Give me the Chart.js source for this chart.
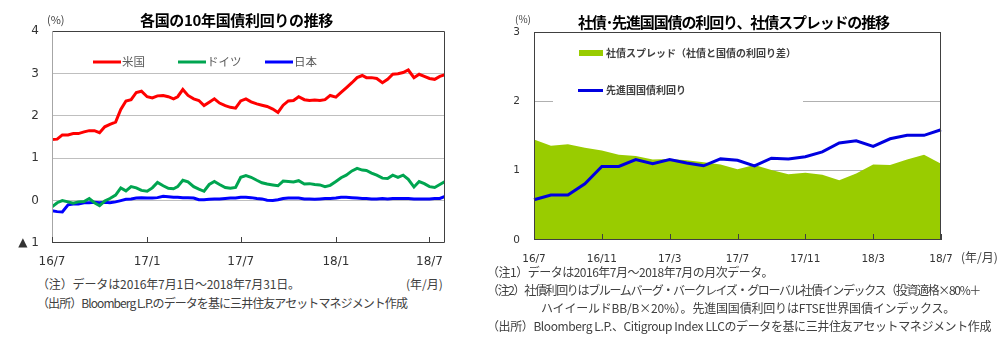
<!DOCTYPE html>
<html>
<head>
<meta charset="utf-8">
<script src="https://cdn.jsdelivr.net/npm/chart.js@4.4.0/dist/chart.umd.min.js"></script>
<style>
  body { margin: 0; width: 1006px; height: 337px; background: #fff; position: relative; overflow: hidden;
         font-family: "Noto Sans CJK JP", sans-serif; color: #404040; }
  canvas { position: absolute; top: 0; }
  .t { position: absolute; white-space: nowrap; line-height: 1; }
  .title { font-weight: bold; font-size: 15px; color: #000; }
  .note { font-size: 12px; }
  .unit { font-size: 11px; }
</style>
</head>
<body>
<canvas id="yieldChart" width="460" height="270" style="left:0"></canvas>
<canvas id="spreadChart" width="526" height="270" style="left:480px"></canvas>

<div class="t title" style="left:140px;top:12px" data-w="193">各国の10年国債利回りの推移</div>
<div class="t unit" style="left:47px;top:14px">(%)</div>
<div class="t note" style="left:37px;top:278px" data-w="263">（注）データは2016年7月1日～2018年7月31日。</div>
<div class="t note" style="left:406px;top:278px">(年/月)</div>
<div class="t note" style="left:37px;top:297px" data-w="370">（出所）Bloomberg L.P.のデータを基に三井住友アセットマネジメント作成</div>

<div class="t title" style="left:578px;top:14px" data-w="311">社債･先進国国債の利回り、社債スプレッドの推移</div>
<div class="t unit" style="left:515px;top:14px;font-size:10px">(%)</div>
<div class="t note" style="left:961px;top:251px">(年/月)</div>
<div class="t note" style="left:487px;top:266px" data-w="286">（注1）データは2016年7月～2018年7月の月次データ。</div>
<div class="t note" style="left:487px;top:284px" data-w="493">（注2）社債利回りはブルームバーグ・バークレイズ・グローバル社債インデックス（投資適格×80%＋</div>
<div class="t note" style="left:541px;top:302px" data-w="414">ハイイールドBB/B×20%）。先進国国債利回りはFTSE世界国債インデックス。</div>
<div class="t note" style="left:487px;top:320px" data-w="504">（出所）Bloomberg L.P.、Citigroup Index LLCのデータを基に三井住友アセットマネジメント作成</div>

<script>
// ---- left chart: 10y government bond yields (read roughly every 10 days) ----
const dates = [
  "16/7/1","16/7/11","16/7/21","16/8/1","16/8/11","16/8/21","16/9/1","16/9/11","16/9/21",
  "16/10/1","16/10/11","16/10/21","16/11/1","16/11/11","16/11/21","16/12/1","16/12/11","16/12/21",
  "17/1/1","17/1/11","17/1/21","17/2/1","17/2/11","17/2/21","17/3/1","17/3/11","17/3/21",
  "17/4/1","17/4/11","17/4/21","17/5/1","17/5/11","17/5/21","17/6/1","17/6/11","17/6/21",
  "17/7/1","17/7/11","17/7/21","17/8/1","17/8/11","17/8/21","17/9/1","17/9/11","17/9/21",
  "17/10/1","17/10/11","17/10/21","17/11/1","17/11/11","17/11/21","17/12/1","17/12/11","17/12/21",
  "18/1/1","18/1/11","18/1/21","18/2/1","18/2/11","18/2/21","18/3/1","18/3/11","18/3/21",
  "18/4/1","18/4/11","18/4/21","18/5/1","18/5/11","18/5/21","18/6/1","18/6/11","18/6/21",
  "18/7/1","18/7/11","18/7/21","18/7/31"
];
const usYield = [
  1.44, 1.45, 1.55, 1.55, 1.58, 1.58, 1.62, 1.65, 1.65,
  1.60, 1.74, 1.80, 1.85, 2.15, 2.35, 2.38, 2.55, 2.58,
  2.45, 2.42, 2.47, 2.48, 2.45, 2.40, 2.45, 2.62, 2.48,
  2.40, 2.36, 2.24, 2.32, 2.40, 2.30, 2.24, 2.20, 2.18,
  2.35, 2.40, 2.33, 2.28, 2.25, 2.22, 2.16, 2.08, 2.25,
  2.35, 2.36, 2.45, 2.38, 2.36, 2.37, 2.36, 2.38, 2.48,
  2.44, 2.55, 2.66, 2.78, 2.90, 2.95, 2.90, 2.90, 2.88,
  2.78, 2.86, 2.98, 2.99, 3.02, 3.08, 2.90, 2.98, 2.93,
  2.88, 2.86, 2.93, 2.97
];
const deYield = [
  -0.15, -0.05, 0.00, -0.03, -0.06, -0.03, -0.02, 0.05, -0.05,
  -0.12, -0.01, 0.05, 0.13, 0.30, 0.23, 0.33, 0.30, 0.24,
  0.22, 0.30, 0.43, 0.35, 0.29, 0.28, 0.33, 0.48, 0.44,
  0.33, 0.27, 0.22, 0.38, 0.45, 0.38, 0.31, 0.29, 0.31,
  0.55, 0.59, 0.55, 0.48, 0.42, 0.39, 0.37, 0.35, 0.46,
  0.45, 0.44, 0.47, 0.39, 0.40, 0.38, 0.37, 0.33, 0.36,
  0.45, 0.54, 0.60, 0.70, 0.76, 0.72, 0.71, 0.65, 0.60,
  0.53, 0.52, 0.60, 0.55, 0.60, 0.50, 0.32, 0.45, 0.40,
  0.33, 0.31, 0.38, 0.45
];
const jpYield = [
  -0.24, -0.26, -0.27, -0.10, -0.08, -0.08, -0.05, -0.05, -0.04,
  -0.05, -0.04, -0.05, -0.03, 0.00, 0.03, 0.04, 0.06, 0.07,
  0.06, 0.06, 0.07, 0.10, 0.09, 0.08, 0.08, 0.07, 0.07,
  0.06, 0.02, 0.02, 0.03, 0.04, 0.04, 0.05, 0.06, 0.06,
  0.08, 0.08, 0.07, 0.05, 0.04, 0.01, 0.00, 0.02, 0.05,
  0.06, 0.06, 0.06, 0.04, 0.04, 0.03, 0.04, 0.05, 0.05,
  0.06, 0.08, 0.08, 0.07, 0.06, 0.05, 0.05, 0.04, 0.04,
  0.05, 0.04, 0.05, 0.05, 0.05, 0.05, 0.04, 0.04, 0.04,
  0.04, 0.05, 0.05, 0.10
];
const yieldTickDates = ["16/7/1", "17/1/1", "17/7/1", "18/1/1", "18/7/1"];
const yieldTickLabels = ["16/7", "17/1", "17/7", "18/1", "18/7"];

// ---- right chart: monthly corporate spread and developed gov yield ----
const months = [
  "16/7","16/8","16/9","16/10","16/11","16/12","17/1","17/2","17/3","17/4","17/5","17/6",
  "17/7","17/8","17/9","17/10","17/11","17/12","18/1","18/2","18/3","18/4","18/5","18/6","18/7"
];
const corpSpread = [
  1.45, 1.36, 1.38, 1.33, 1.29, 1.23, 1.21, 1.16, 1.17, 1.15, 1.12, 1.09,
  1.02, 1.08, 1.01, 0.95, 0.97, 0.94, 0.86, 0.96, 1.09, 1.08, 1.16, 1.23, 1.10
];
const govYield = [
  0.58, 0.65, 0.65, 0.81, 1.06, 1.06, 1.16, 1.10, 1.16, 1.11, 1.07, 1.17,
  1.15, 1.07, 1.18, 1.17, 1.20, 1.27, 1.40, 1.43, 1.35, 1.46, 1.51, 1.51, 1.59
];

// squeeze or stretch text lines to the widths seen in the reference
document.querySelectorAll("[data-w]").forEach(el => {
  const n = [...el.textContent].length;
  const diff = +el.dataset.w - el.getBoundingClientRect().width;
  el.style.letterSpacing = (diff / n) + "px";
});

const dayOf = s => {
  const [y, m, d] = s.split("/").map(Number);
  return (Date.UTC(2000 + y, m - 1, d) - Date.UTC(2016, 6, 1)) / 864e5;
};
const xDays = dates.map(dayOf);
const toPoints = vals => vals.map((v, i) => ({ x: xDays[i], y: v }));
const tickDays = yieldTickDates.map(dayOf);

const tickFont = { family: "DejaVu Sans", size: 12 };

const yieldDecor = {
  id: "yieldDecor",
  afterDatasetsDraw(chart) {
    const { ctx, chartArea: a, scales } = chart;
    ctx.save();
    // frame
    ctx.lineWidth = 1;
    ctx.strokeStyle = "#404040";
    ctx.beginPath();
    ctx.moveTo(a.left, a.top + 0.5); ctx.lineTo(a.right - 0.5, a.top + 0.5);
    ctx.lineTo(a.right - 0.5, a.bottom - 0.5); ctx.lineTo(a.left, a.bottom - 0.5);
    ctx.stroke();
    ctx.strokeStyle = "#a6a6a6";
    ctx.beginPath();
    ctx.moveTo(a.left + 0.5, a.top); ctx.lineTo(a.left + 0.5, a.bottom);
    ctx.stroke();
    // inner tick marks on the x axis
    ctx.strokeStyle = "#404040";
    tickDays.forEach(v => {
      const px = Math.round(scales.x.getPixelForValue(v)) + 0.5;
      ctx.beginPath(); ctx.moveTo(px, a.bottom); ctx.lineTo(px, a.bottom - 6); ctx.stroke();
    });
    // legend inside plot
    const offs = [41, 126, 213];
    ctx.font = "11.5px 'Noto Sans CJK JP'";
    ctx.textBaseline = "middle";
    chart.data.datasets.forEach((ds, i) => {
      const x = a.left + offs[i], y = a.top + 31;
      ctx.strokeStyle = ds.borderColor; ctx.lineWidth = 3;
      ctx.beginPath(); ctx.moveTo(x, y); ctx.lineTo(x + 28, y); ctx.stroke();
      ctx.fillStyle = "#595959";
      ctx.fillText(ds.label, x + 29, y);
    });
    ctx.restore();
  }
};

new Chart(document.getElementById("yieldChart"), {
  type: "line",
  data: {
    datasets: [
      { label: "米国", data: toPoints(usYield), borderColor: "#ff0000", borderWidth: 3, pointRadius: 0 },
      { label: "ドイツ", data: toPoints(deYield), borderColor: "#00a550", borderWidth: 3, pointRadius: 0 },
      { label: "日本", data: toPoints(jpYield), borderColor: "#0000ff", borderWidth: 3, pointRadius: 0 }
    ]
  },
  options: {
    responsive: false,
    animation: false,
    layout: { padding: { top: 31, right: 15, left: 0, bottom: 0 } },
    plugins: { legend: { display: false }, tooltip: { enabled: false } },
    scales: {
      x: {
        type: "linear",
        min: 0,
        max: dayOf("18/7/31"),
        afterBuildTicks: axis => { axis.ticks = tickDays.map(v => ({ value: v })); },
        afterFit: s => { s.height = 27; },
        ticks: {
          autoSkip: false, maxRotation: 0, padding: 4, color: "#333", font: tickFont,
          callback: v => yieldTickLabels[tickDays.indexOf(v)]
        },
        grid: { display: false },
        border: { display: false }
      },
      y: {
        min: -1,
        max: 4,
        afterFit: s => { s.width = 52; },
        ticks: {
          stepSize: 1, padding: 13, color: "#333", font: tickFont,
          callback: v => (v < 0 ? "▲ " + (-v) : v)
        },
        grid: {
          drawTicks: false,
          color: c => (c.tick.value > -1 && c.tick.value < 4 ? "#bfbfbf" : "rgba(0,0,0,0)")
        },
        border: { display: false }
      }
    }
  },
  plugins: [yieldDecor]
});

const spreadDecor = {
  id: "spreadDecor",
  afterDatasetsDraw(chart) {
    const { ctx, chartArea: a, scales } = chart;
    ctx.save();
    ctx.lineWidth = 1;
    ctx.strokeStyle = "#404040";
    ctx.strokeRect(a.left + 0.5, a.top + 0.5, a.right - a.left - 1, a.bottom - a.top - 1);
    for (let i = 0; i < months.length; i += 4) {
      const px = Math.round(scales.x.getPixelForValue(i)) + 0.5;
      ctx.beginPath(); ctx.moveTo(px, a.bottom); ctx.lineTo(px, a.bottom - 6); ctx.stroke();
    }
    // legend box (white, hides the 2% gridline)
    ctx.fillStyle = "#fff";
    ctx.fillRect(a.left + 19, a.top + 6, 250, 66);
    const [spr, gov] = chart.data.datasets;
    ctx.fillStyle = spr.backgroundColor;
    ctx.fillRect(a.left + 45, a.top + 18, 24, 6);
    ctx.strokeStyle = gov.borderColor; ctx.lineWidth = 3;
    ctx.beginPath(); ctx.moveTo(a.left + 44, a.top + 58.5); ctx.lineTo(a.left + 69, a.top + 58.5); ctx.stroke();
    ctx.font = "bold 10px 'Noto Sans CJK JP'";
    ctx.textBaseline = "middle";
    ctx.fillStyle = "#404040";
    ctx.fillText(spr.label, a.left + 72, a.top + 21);
    ctx.fillText(gov.label, a.left + 72, a.top + 58.5);
    ctx.restore();
  }
};

new Chart(document.getElementById("spreadChart"), {
  type: "line",
  data: {
    labels: months,
    datasets: [
      { label: "社債スプレッド（社債と国債の利回り差）", data: corpSpread, fill: "origin",
        backgroundColor: "#99cc00", borderWidth: 0, pointRadius: 0, order: 1 },
      { label: "先進国国債利回り", data: govYield, borderColor: "#0000e0", borderWidth: 3,
        pointRadius: 0, fill: false, order: 0 }
    ]
  },
  options: {
    responsive: false,
    animation: false,
    layout: { padding: { top: 32, right: 65, left: 0, bottom: 0 } },
    plugins: { legend: { display: false }, tooltip: { enabled: false } },
    scales: {
      x: {
        offset: false,
        afterFit: s => { s.height = 30; },
        ticks: {
          autoSkip: false, maxRotation: 0, padding: 5, color: "#333",
          font: { family: "DejaVu Sans", size: 10.5 },
          callback: (v, i) => (i % 4 === 0 ? months[i] : "")
        },
        grid: { display: false },
        border: { display: false }
      },
      y: {
        min: 0,
        max: 3,
        afterFit: s => { s.width = 54; },
        ticks: { stepSize: 1, padding: 14, color: "#333", font: { family: "DejaVu Sans", size: 10.5 } },
        grid: {
          drawTicks: false,
          color: c => (c.tick.value > 0 && c.tick.value < 3 ? "#b0b0b0" : "rgba(0,0,0,0)")
        },
        border: { display: false }
      }
    }
  },
  plugins: [spreadDecor]
});
</script>
</body>
</html>
